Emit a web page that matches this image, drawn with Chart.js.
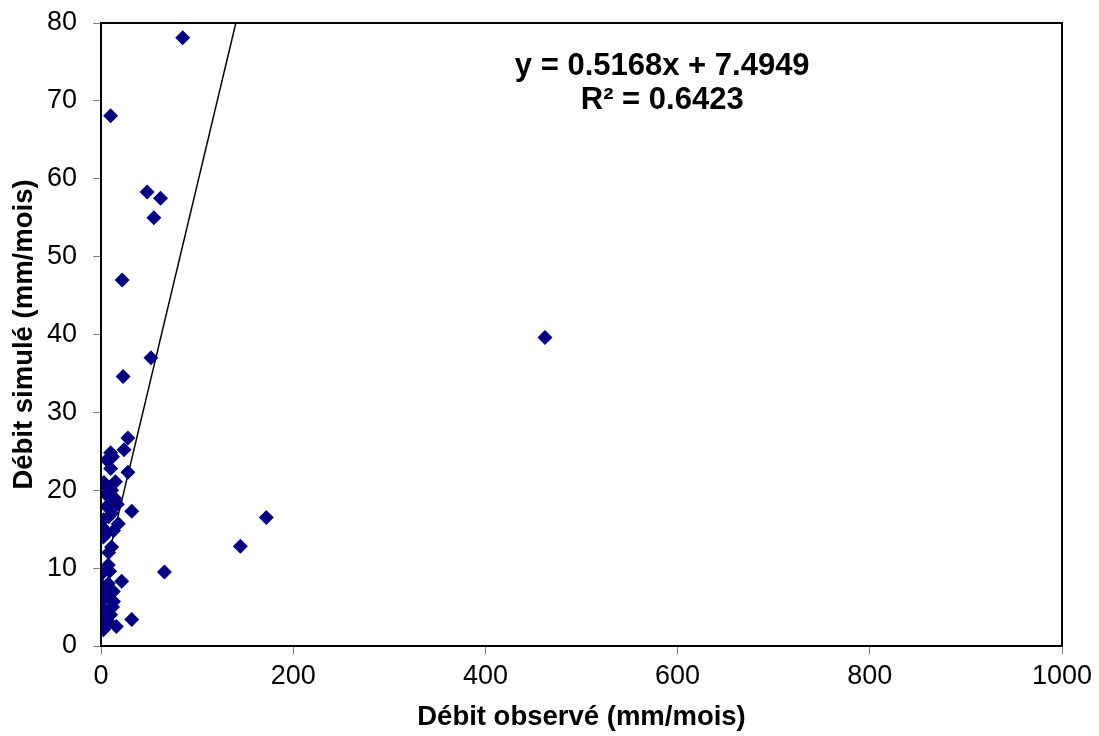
<!DOCTYPE html>
<html>
<head>
<meta charset="utf-8">
<script src="https://cdn.jsdelivr.net/npm/chart.js@4.4.1/dist/chart.umd.min.js"></script>
<style>
  html, body { margin: 0; padding: 0; background: #ffffff; }
  #wrap { width: 1099px; height: 736px; }
</style>
</head>
<body>
<div id="wrap"><canvas id="c" width="1099" height="736"></canvas></div>
<script>
// Monthly discharge: observed vs simulated (mm/mois)
const observed = [85, 10, 48, 62, 55, 22, 52, 23, 462, 28, 24, 28, 32, 172, 145, 66, 32,
  10, 6, 10, 4, 15, 11, 14.6, 6, 11, 2.5, 18, 1, 2.5, 11, 7.6, 1, 21.5, 7.6, 12.8,
  2.4, 13, 0, 7.6, 0, 16, 2.4, 6, 5, 8, 3, 12, 9, 4, 14, 17, 9, 13,
  5, 10, 3, 8, 6, 12];
const simulated = [78.1, 68.1, 58.3, 57.5, 55.0, 47.0, 37.0, 34.6, 39.6, 26.7, 25.2, 22.3, 17.3, 16.5, 12.8, 9.5, 3.4,
  24.8, 23.9, 22.8, 20.7, 21.1, 20.0, 18.7, 17.9, 17.0, 16.2, 15.7, 15.3, 14.0, 12.7, 10.4, 9.3, 8.3, 8.0, 7.0,
  5.9, 5.7, 4.9, 4.6, 3.6, 2.5, 2.1, 2.7, 19.5, 16.6, 21.0, 5.0, 3.0, 6.5, 19.0, 18.2, 9.6, 14.8,
  3.2, 4.0, 7.5, 12.0, 14.5, 24.3];

// Linear trend reported on the chart
const slope = 0.5168;
const intercept = 7.4949;
const rSquared = 0.6423;
const trendX = [0, 160];

const xTicks = [0, 200, 400, 600, 800, 1000];
const yTicks = [0, 10, 20, 30, 40, 50, 60, 70, 80];

const xTitle = 'Débit observé (mm/mois)';
const yTitle = 'Débit simulé (mm/mois)';
const eqLine1 = 'y = ' + slope.toFixed(4) + 'x + ' + intercept.toFixed(4);
const eqLine2 = 'R² = ' + rSquared.toFixed(4);

const points = observed.map((x, i) => ({ x: x, y: simulated[i] }));
const trend = trendX.map(x => ({ x: x, y: slope * x + intercept }));

const frame = {
  id: 'frame',
  afterDatasetsDraw(chart) {
    const a = chart.chartArea, ctx = chart.ctx;
    ctx.save();
    ctx.strokeStyle = '#000';
    ctx.lineWidth = 2;
    ctx.strokeRect(a.left, a.top, a.right - a.left, a.bottom - a.top);
    ctx.restore();
  },
  afterDraw(chart) {
    const ctx = chart.ctx;
    const xs = chart.scales.x;
    const cx = xs.getPixelForValue(584);
    ctx.save();
    ctx.fillStyle = '#000';
    ctx.font = 'bold 31px "Liberation Sans", Arial, sans-serif';
    ctx.textAlign = 'center';
    ctx.textBaseline = 'alphabetic';
    ctx.fillText(eqLine1, cx, 75);
    ctx.fillText(eqLine2, cx, 109);
    ctx.restore();
  }
};

const tickFont = { family: '"Liberation Sans", Arial, sans-serif', size: 27 };
const titleFont = { family: '"Liberation Sans", Arial, sans-serif', size: 27.5, weight: 'bold' };

new Chart(document.getElementById('c'), {
  type: 'scatter',
  data: {
    datasets: [
      {
        data: points,
        pointStyle: 'rectRot',
        pointRadius: 7.5,
        pointHoverRadius: 7.5,
        backgroundColor: '#000080',
        borderColor: '#000080',
        borderWidth: 0
      },
      {
        type: 'line',
        data: trend,
        borderColor: '#000',
        borderWidth: 1.5,
        pointRadius: 0,
        fill: false,
        showLine: true
      }
    ]
  },
  options: {
    responsive: false,
    animation: false,
    devicePixelRatio: 1,
    layout: { padding: { left: 0, top: 23, right: 37, bottom: 0 } },
    plugins: { legend: { display: false }, tooltip: { enabled: false } },
    scales: {
      x: {
        type: 'linear',
        min: 0, max: 1000,
        afterBuildTicks(s) { s.ticks = xTicks.map(v => ({ value: v })); },
        afterFit(s) { s.height = 90; },
        border: { display: true, color: '#000', width: 2 },
        grid: { display: true, drawOnChartArea: false, drawTicks: true, tickLength: 8, color: '#808080' },
        ticks: { color: '#000', font: tickFont, padding: 6, maxRotation: 0, callback: v => String(v) },
        title: { display: true, text: xTitle, color: '#000', font: titleFont, padding: { top: 2, bottom: 2 } }
      },
      y: {
        type: 'linear',
        min: 0, max: 80,
        afterBuildTicks(s) { s.ticks = yTicks.map(v => ({ value: v })); },
        afterFit(s) { s.width = 101; s.paddingTop = 0; s.paddingBottom = 0; },
        border: { display: true, color: '#000', width: 2 },
        grid: { display: true, drawOnChartArea: false, drawTicks: true, tickLength: 8, color: '#808080' },
        ticks: { color: '#000', font: tickFont, padding: 16, callback: v => String(v) },
        title: { display: true, text: yTitle, color: '#000', font: titleFont, padding: { top: 8, bottom: 4 } }
      }
    }
  },
  plugins: [frame]
});
</script>
</body>
</html>
